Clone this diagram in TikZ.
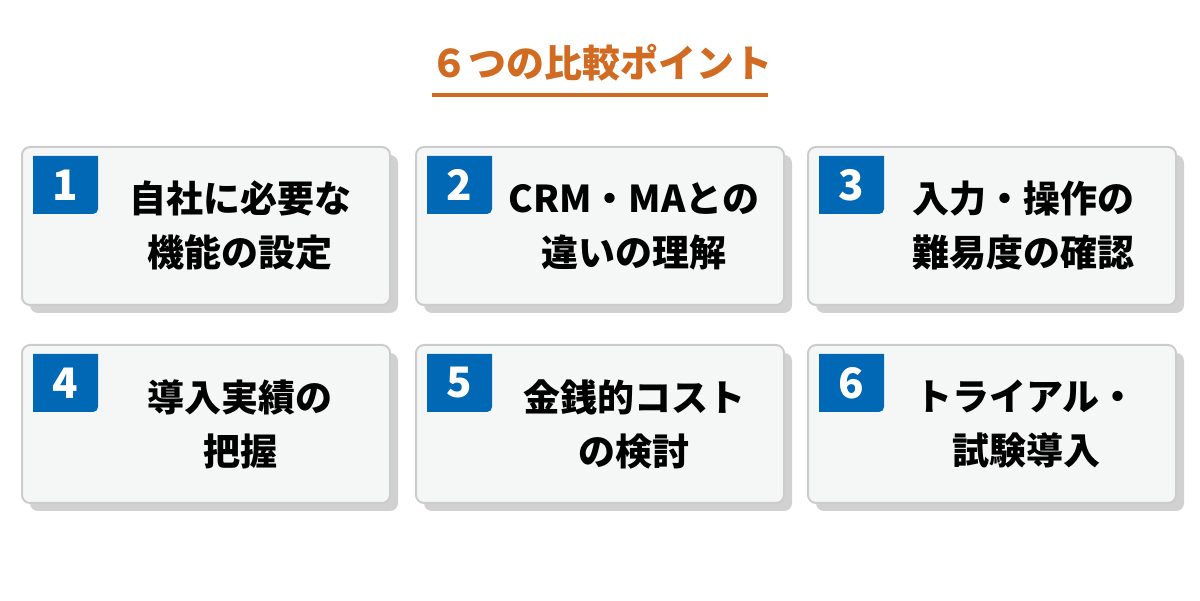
\documentclass[tikz,border=0pt]{standalone}
\usepackage{fontspec}
\setmainfont{Noto Sans CJK JP}
\usetikzlibrary{calc, shadows, positioning}
\definecolor{titleorange}{HTML}{D06B21}
\definecolor{badgeblue}{HTML}{0068B4}
\definecolor{cardfill}{HTML}{F5F7F7}
\definecolor{cardline}{HTML}{CCCCCC}

\begin{document}
\begin{tikzpicture}[x=1pt, y=1pt,
    card/.style={draw=cardline, line width=2pt, fill=cardfill, rounded corners=8pt, minimum width=368pt, minimum height=158pt, inner sep=0pt, drop shadow={shadow xshift=8pt, shadow yshift=-8pt, fill=black!18, opacity=1}},
    num/.style={text=white, font=\bfseries\fontsize{42}{42}\selectfont, inner sep=0pt},
    label/.style={align=center, font=\bfseries\fontsize{37}{54}\selectfont, inner sep=0pt}]
    \useasboundingbox (0,0) rectangle (1200,601);

    % Title
    \node[text=titleorange, font=\bfseries\fontsize{38}{40}\selectfont] (title) at (601,538) {６つの比較ポイント};
    \draw[titleorange, line width=3.5pt] (432,506) -- (768,506);

    % Row 1
    \node[card] (card1) at (206,375) {};
    \fill[badgeblue] ($(card1.north west)+(12,-10)$) coordinate (b1) -- ++(65,0) -- ++(0,-53) arc[start angle=0, end angle=-90, radius=5] -- ++(-60,0) -- cycle;
    \node[num] (num1) at ($(b1)+(32.5,-29)$) {1};
    \node[label] (txt1) at ($(card1.center)+(34,0)$) {自社に必要な\\機能の設定};

    \node[card] (card2) at (600,375) {};
    \fill[badgeblue] ($(card2.north west)+(12,-10)$) coordinate (b2) -- ++(65,0) -- ++(0,-53) arc[start angle=0, end angle=-90, radius=5] -- ++(-60,0) -- cycle;
    \node[num] (num2) at ($(b2)+(32.5,-29)$) {2};
    \node[label] (txt2) at ($(card2.center)+(34,0)$) {CRM・MAとの\\違いの理解};

    \node[card] (card3) at (992,375) {};
    \fill[badgeblue] ($(card3.north west)+(12,-10)$) coordinate (b3) -- ++(65,0) -- ++(0,-53) arc[start angle=0, end angle=-90, radius=5] -- ++(-60,0) -- cycle;
    \node[num] (num3) at ($(b3)+(32.5,-29)$) {3};
    \node[label] (txt3) at ($(card3.center)+(31,0)$) {入力・操作の\\難易度の確認};

    % Row 2
    \node[card] (card4) at (206,177) {};
    \fill[badgeblue] ($(card4.north west)+(12,-10)$) coordinate (b4) -- ++(65,0) -- ++(0,-53) arc[start angle=0, end angle=-90, radius=5] -- ++(-60,0) -- cycle;
    \node[num] (num4) at ($(b4)+(32.5,-29)$) {4};
    \node[label] (txt4) at ($(card4.center)+(34,0)$) {導入実績の\\把握};

    \node[card] (card5) at (600,177) {};
    \fill[badgeblue] ($(card5.north west)+(12,-10)$) coordinate (b5) -- ++(65,0) -- ++(0,-53) arc[start angle=0, end angle=-90, radius=5] -- ++(-60,0) -- cycle;
    \node[num] (num5) at ($(b5)+(32.5,-29)$) {5};
    \node[label] (txt5) at ($(card5.center)+(34,0)$) {金銭的コスト\\の検討};

    \node[card] (card6) at (992,177) {};
    \fill[badgeblue] ($(card6.north west)+(12,-10)$) coordinate (b6) -- ++(65,0) -- ++(0,-53) arc[start angle=0, end angle=-90, radius=5] -- ++(-60,0) -- cycle;
    \node[num] (num6) at ($(b6)+(32.5,-29)$) {6};
    \node[label] (txt6) at ($(card6.center)+(34,0)$) {トライアル・\\試験導入};
\end{tikzpicture}
\end{document}
